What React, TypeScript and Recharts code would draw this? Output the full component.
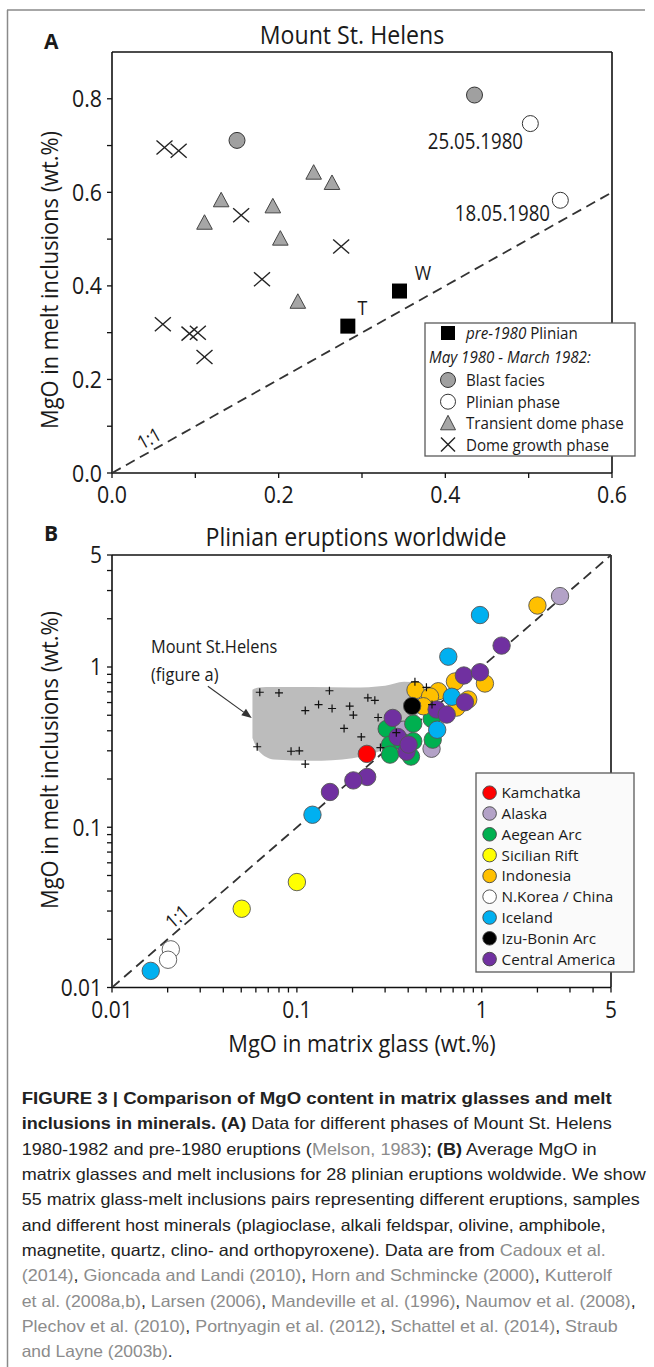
import React from "react";
import {
  ScatterChart,
  ComposedChart,
  Scatter,
  Area,
  XAxis,
  YAxis,
  ReferenceLine,
  ReferenceDot,
} from "recharts";

const FONT = "'Open Sans', 'DejaVu Sans', sans-serif";
const CAP_FONT = "'Liberation Sans', Arial, sans-serif";
const SX = 0.89;

// ---------- Panel A: Mount St. Helens (MgO matrix glass vs melt inclusions) ----------
const blastX = [0.435, 0.15];
const blastY = [0.808, 0.711];
const plinianX = [0.502, 0.538];
const plinianY = [0.747, 0.583];
const transientX = [0.242, 0.264, 0.131, 0.193, 0.111, 0.202, 0.223];
const transientY = [0.642, 0.62, 0.583, 0.57, 0.535, 0.501, 0.366];
const domeX = [0.063, 0.08, 0.155, 0.275, 0.18, 0.061, 0.093, 0.103, 0.111];
const domeY = [0.696, 0.689, 0.551, 0.484, 0.414, 0.318, 0.298, 0.3, 0.248];
const pre1980X = [0.283, 0.345];
const pre1980Y = [0.314, 0.389];

const aXTicks = [0, 0.1, 0.2, 0.3, 0.4, 0.5, 0.6];
const aYTicks = [0, 0.1, 0.2, 0.3, 0.4, 0.5, 0.6, 0.7, 0.8];
const aTickLabels = ["0.0", "0.2", "0.4", "0.6", "0.8"];
const oneToOneA = [0, 0.6];

// ---------- Panel B: Plinian eruptions worldwide ----------
const kamchatkaX = [0.239];
const kamchatkaY = [0.287];
const alaskaX = [2.65, 0.376, 0.535];
const alaskaY = [2.77, 0.406, 0.309];
const aegeanX = [0.426, 0.306, 0.426, 0.319, 0.319, 0.414, 0.536, 0.543, 0.37];
const aegeanY = [0.443, 0.411, 0.344, 0.328, 0.284, 0.276, 0.474, 0.352, 0.342];
const sicilianX = [0.1, 0.0503];
const sicilianY = [0.0455, 0.031];
const indonesiaX = [2.0, 1.04, 0.716, 0.438, 0.582, 0.525, 0.845, 0.483, 0.73];
const indonesiaY = [2.42, 0.789, 0.812, 0.718, 0.706, 0.655, 0.627, 0.569, 0.558];
const koreaX = [0.0208, 0.0201];
const koreaY = [0.0173, 0.0149];
const icelandX = [0.978, 0.659, 0.688, 0.574, 0.1214, 0.0162];
const icelandY = [2.11, 1.16, 0.652, 0.406, 0.1197, 0.0127];
const izuX = [0.42];
const izuY = [0.571];
const centralX = [1.28, 0.8, 0.978, 0.811, 0.57, 0.646, 0.33, 0.351, 0.392, 0.402, 0.24, 0.202, 0.151];
const centralY = [1.36, 0.885, 0.928, 0.603, 0.543, 0.505, 0.481, 0.366, 0.296, 0.328, 0.206, 0.196, 0.166];

const regionNames = [
  "Kamchatka",
  "Alaska",
  "Aegean Arc",
  "Sicilian Rift",
  "Indonesia",
  "N.Korea / China",
  "Iceland",
  "Izu-Bonin Arc",
  "Central America",
];
const regionColors = ["#ff0000", "#b3a2c7", "#00b050", "#ffff00", "#ffc000", "#ffffff", "#00b0f0", "#000000", "#7030a0"];
const regionXs = [kamchatkaX, alaskaX, aegeanX, sicilianX, indonesiaX, koreaX, icelandX, izuX, centralX];
const regionYs = [kamchatkaY, alaskaY, aegeanY, sicilianY, indonesiaY, koreaY, icelandY, izuY, centralY];

// envelope of the Mount St. Helens field (grey area)
const mshEnvX = [0.0575, 0.062, 0.075, 0.12, 0.2, 0.3, 0.38, 0.45];
const mshEnvLow = [0.36, 0.3, 0.265, 0.26, 0.27, 0.31, 0.37, 0.47];
const mshEnvHigh = [0.72, 0.745, 0.75, 0.75, 0.745, 0.765, 0.81, 0.8];

const bTicks = [
  0.01, 0.02, 0.03, 0.04, 0.05, 0.06, 0.07, 0.08, 0.09, 0.1, 0.2, 0.3, 0.4, 0.5, 0.6, 0.7, 0.8, 0.9, 1, 2, 3, 4, 5,
];
const bTickLabels = ["0.01", "0.1", "1", "5"];
const oneToOneB = [0.01, 5];

const captionLines: [string, string][][] = [
  [["FIGURE 3 | Comparison of MgO content in matrix glasses and melt", "b"]],
  [["inclusions in minerals. (A)", "b"], [" Data for different phases of Mount St. Helens", "n"]],
  [["1980-1982 and pre-1980 eruptions (", "n"], ["Melson, 1983", "g"], [");", "n"], [" (B)", "b"], [" Average MgO in", "n"]],
  [["matrix glasses and melt inclusions for 28 plinian eruptions woldwide. We show", "n"]],
  [["55 matrix glass-melt inclusions pairs representing different eruptions, samples", "n"]],
  [["and different host minerals (plagioclase, alkali feldspar, olivine, amphibole,", "n"]],
  [["magnetite, quartz, clino- and orthopyroxene). Data are from ", "n"], ["Cadoux et al.", "g"]],
  [["(2014)", "g"], [", ", "n"], ["Gioncada and Landi (2010)", "g"], [", ", "n"], ["Horn and Schmincke (2000)", "g"], [", ", "n"], ["Kutterolf", "g"]],
  [["et al. (2008a,b)", "g"], [", ", "n"], ["Larsen (2006)", "g"], [", ", "n"], ["Mandeville et al. (1996)", "g"], [", ", "n"], ["Naumov et al. (2008)", "g"], [",", "n"]],
  [["Plechov et al. (2010)", "g"], [", ", "n"], ["Portnyagin et al. (2012)", "g"], [", ", "n"], ["Schattel et al. (2014)", "g"], [", ", "n"], ["Straub", "g"]],
  [["and Layne (2003b)", "g"], [".", "n"]],
];
const captionWidths = [590, 590, 575, 624, 618, 584, 584, 590, 614, 596, 151];

// ---------- helpers ----------
const pts = (xs: number[], ys: number[]) => xs.map((x, i) => ({ x, y: ys[i] }));
const mshPoints = [
  ...pts(blastX, blastY),
  ...pts(plinianX, plinianY),
  ...pts(transientX, transientY),
  ...pts(domeX, domeY),
  ...pts(pre1980X, pre1980Y),
];
const mshEnvelope = mshEnvX.map((x, i) => ({ x, r: [mshEnvLow[i], mshEnvHigh[i]] }));

function NText({ x, y, size, anchor = "start", rotate = 0, by = 0, weight, italic, fill = "#1a1a1a", sx = SX, children }: any) {
  return (
    <g transform={`translate(${x},${y}) rotate(${rotate}) scale(${sx},1)`}>
      <text
        x={0}
        y={by}
        fontSize={size}
        textAnchor={anchor}
        fontFamily={FONT}
        fontWeight={weight}
        fontStyle={italic ? "italic" : undefined}
        fill={fill}
      >
        {children}
      </text>
    </g>
  );
}

const fmtA = (v: number) => {
  const s = v.toFixed(1);
  return aTickLabels.includes(s) ? s : "";
};
const fmtB = (v: number) => {
  const s = String(v);
  return bTickLabels.includes(s) ? s : "";
};
const makeTick = (fmt: (v: number) => string, axis: "x" | "y", fs: number) => (props: any) => {
  const label = fmt(props.payload.value);
  if (!label) return <g />;
  const cap = fs * 0.714;
  return axis === "x" ? (
    <NText x={props.x} y={props.y} by={cap} size={fs} anchor="middle">
      {label}
    </NText>
  ) : (
    <NText x={props.x} y={props.y} by={cap / 2} size={fs} anchor="end">
      {label}
    </NText>
  );
};

const circ = (fill: string, r: number, stroke = "#333", sw = 1) => (p: any) => (
  <circle cx={p.cx} cy={p.cy} r={r} fill={fill} stroke={stroke} strokeWidth={sw} />
);
const triShape = (p: any) => (
  <polygon
    points={`${p.cx},${p.cy - 8} ${p.cx - 7.8},${p.cy + 6.5} ${p.cx + 7.8},${p.cy + 6.5}`}
    fill="#a6a6a6"
    stroke="#444"
    strokeWidth={1}
  />
);
const crossShape = (p: any) => (
  <g stroke="#222" strokeWidth={1.4}>
    <line x1={p.cx - 8} y1={p.cy - 7} x2={p.cx + 8} y2={p.cy + 7} />
    <line x1={p.cx - 8} y1={p.cy + 7} x2={p.cx + 8} y2={p.cy - 7} />
  </g>
);
const squareShape = (p: any) => <rect x={p.cx - 7.5} y={p.cy - 7.5} width={15} height={15} fill="#000" />;
const plusShape = (p: any) => (
  <g stroke="#111" strokeWidth={1.2}>
    <line x1={p.cx - 4} y1={p.cy} x2={p.cx + 4} y2={p.cy} />
    <line x1={p.cx} y1={p.cy - 4} x2={p.cx} y2={p.cy + 4} />
  </g>
);
const noShape = () => <g />;
const textShape = (text: string, size: number, anchor = "start", rotate = 0) => (p: any) => (
  <NText x={p.cx} y={p.cy} size={size} anchor={anchor} rotate={rotate} by={size * 0.357}>
    {text}
  </NText>
);
const arrowShape = (p: any) => {
  const { x1, y1, x2, y2 } = p;
  const a = Math.atan2(y2 - y1, x2 - x1);
  const L = 10;
  const W = 4;
  const bx = x2 - L * Math.cos(a);
  const by = y2 - L * Math.sin(a);
  const px = -Math.sin(a) * W;
  const py = Math.cos(a) * W;
  return (
    <g>
      <line x1={x1} y1={y1} x2={bx} y2={by} stroke="#333" strokeWidth={1.1} />
      <polygon points={`${x2},${y2} ${bx + px},${by + py} ${bx - px},${by - py}`} fill="#333" />
    </g>
  );
};

const AXIS = { stroke: "#111", strokeWidth: 1.6 };
const TICK = { stroke: "#111", strokeWidth: 1.3 };

function PanelA() {
  return (
    <ScatterChart width={654} height={520} margin={{ top: 52, right: 42, bottom: 17, left: 52 }}>
      <XAxis
        type="number"
        dataKey="x"
        domain={[0, 0.6]}
        ticks={aXTicks}
        interval={0}
        height={30}
        tickSize={5}
        tickMargin={8}
        allowDataOverflow
        axisLine={AXIS}
        tickLine={TICK}
        tick={makeTick(fmtA, "x", 24)}
      />
      <YAxis
        type="number"
        dataKey="y"
        domain={[0, 0.9]}
        ticks={aYTicks}
        interval={0}
        width={60}
        tickSize={5}
        tickMargin={5}
        allowDataOverflow
        axisLine={AXIS}
        tickLine={TICK}
        tick={makeTick(fmtA, "y", 24)}
      />
      <ReferenceLine y={0.9} stroke="#111" strokeWidth={1.6} />
      <ReferenceLine x={0.6} stroke="#111" strokeWidth={1.6} />
      <Scatter
        data={pts(oneToOneA, oneToOneA)}
        line={{ stroke: "#333", strokeWidth: 1.8, strokeDasharray: "10 6" }}
        shape={noShape}
        isAnimationActive={false}
      />
      <Scatter data={pts(blastX, blastY)} shape={circ("#a0a0a0", 8)} isAnimationActive={false} />
      <Scatter data={pts(plinianX, plinianY)} shape={circ("#ffffff", 8)} isAnimationActive={false} />
      <Scatter data={pts(transientX, transientY)} shape={triShape} isAnimationActive={false} />
      <Scatter data={pts(domeX, domeY)} shape={crossShape} isAnimationActive={false} />
      <Scatter data={pts(pre1980X, pre1980Y)} shape={squareShape} isAnimationActive={false} />
      <ReferenceDot x={0.4932} y={0.708} shape={textShape("25.05.1980", 21, "end")} />
      <ReferenceDot x={0.5256} y={0.5555} shape={textShape("18.05.1980", 21, "end")} />
      <ReferenceDot x={0.3006} y={0.352} shape={textShape("T", 20, "middle")} />
      <ReferenceDot x={0.3732} y={0.428} shape={textShape("W", 20, "middle")} />
      <ReferenceDot x={0.0444} y={0.074} shape={textShape("1:1", 19, "middle", -29.3)} />
    </ScatterChart>
  );
}

function PanelB() {
  return (
    <ComposedChart width={654} height={540} margin={{ top: 35, right: 43, bottom: 42.5, left: 52 }}>
      <XAxis
        type="number"
        dataKey="x"
        scale="log"
        domain={[0.01, 5]}
        ticks={bTicks}
        interval={0}
        height={30}
        tickSize={5}
        tickMargin={9}
        allowDataOverflow
        axisLine={AXIS}
        tickLine={TICK}
        tick={makeTick(fmtB, "x", 23.5)}
      />
      <YAxis
        type="number"
        dataKey="y"
        scale="log"
        domain={[0.01, 5]}
        ticks={bTicks}
        interval={0}
        width={60}
        tickSize={5}
        tickMargin={5}
        allowDataOverflow
        axisLine={AXIS}
        tickLine={TICK}
        tick={makeTick(fmtB, "y", 23.5)}
      />
      <ReferenceLine y={5} stroke="#111" strokeWidth={1.6} />
      <ReferenceLine x={5} stroke="#111" strokeWidth={1.6} />
      <Area
        data={mshEnvelope}
        dataKey="r"
        type="monotone"
        fill="#bcbcbc"
        fillOpacity={1}
        stroke="none"
        isAnimationActive={false}
      />
      <Scatter
        data={pts(oneToOneB, oneToOneB)}
        line={{ stroke: "#333", strokeWidth: 1.8, strokeDasharray: "10 6" }}
        shape={noShape}
        isAnimationActive={false}
      />
      {regionNames.map((name, i) => (
        <Scatter
          key={name}
          name={name}
          data={pts(regionXs[i], regionYs[i])}
          shape={circ(regionColors[i], 8.7, "#555", 0.9)}
          isAnimationActive={false}
        />
      ))}
      <Scatter data={mshPoints} shape={plusShape} isAnimationActive={false} />
      <ReferenceLine
        segment={[
          { x: 0.033, y: 0.759 },
          { x: 0.057, y: 0.481 },
        ]}
        shape={arrowShape}
      />
      <ReferenceDot x={0.01626} y={1.349} shape={textShape("Mount St.Helens", 18.4)} />
      <ReferenceDot x={0.01626} y={0.897} shape={textShape("(figure a)", 18.4)} />
      <ReferenceDot x={0.02246} y={0.0277} shape={textShape("1:1", 19, "middle", -40.9)} />
    </ComposedChart>
  );
}

function Overlay() {
  const aRows = [333, 356.5, 380, 401.7, 423.3, 444.5];
  const lfA = 17;
  const capA = lfA * 0.357;
  const lfB = 15.3;
  const capB = lfB * 0.357;
  return (
    <svg width={654} height={1367} style={{ position: "absolute", left: 0, top: 0 }}>
      {/* figure frame */}
      <line x1={7} y1={10} x2={645} y2={10} stroke="#8a8a8a" strokeWidth={1.5} />
      <line x1={7.5} y1={10} x2={7.5} y2={1367} stroke="#8a8a8a" strokeWidth={1.5} />

      {/* panel letters and titles */}
      <NText x={44} y={49} size={21} weight="bold" sx={1}>A</NText>
      <NText x={44} y={541} size={21} weight="bold" sx={1}>B</NText>
      <NText x={352} y={44} size={26} anchor="middle">Mount St. Helens</NText>
      <NText x={356} y={546} size={26} anchor="middle">Plinian eruptions worldwide</NText>

      {/* axis titles */}
      <NText x={49} y={280} size={24.5} anchor="middle" rotate={-90} by={8.75}>MgO in melt inclusions (wt.%)</NText>
      <NText x={49} y={760} size={24.5} anchor="middle" rotate={-90} by={8.75}>MgO in melt inclusions (wt.%)</NText>
      <NText x={362} y={1043} size={24.5} anchor="middle" by={8.75}>MgO in matrix glass (wt.%)</NText>

      {/* legend A */}
      <rect x={425} y={323} width={210} height={133} fill="#ffffff" stroke="#5a5a5a" strokeWidth={1.3} />
      <rect x={441} y={aRows[0] - 7} width={14} height={14} fill="#000" />
      <NText x={466} y={aRows[0]} by={capA} size={lfA}>
        <tspan fontStyle="italic">pre-1980</tspan> Plinian
      </NText>
      <NText x={429} y={aRows[1]} by={capA} size={lfA} italic>May 1980 - March 1982:</NText>
      <circle cx={448} cy={aRows[2]} r={7.5} fill="#a0a0a0" stroke="#333" />
      <NText x={466} y={aRows[2]} by={capA} size={lfA}>Blast facies</NText>
      <circle cx={448} cy={aRows[3]} r={7.5} fill="#fff" stroke="#333" />
      <NText x={466} y={aRows[3]} by={capA} size={lfA}>Plinian phase</NText>
      <polygon
        points={`448,${aRows[4] - 8} ${440.5},${aRows[4] + 6.5} ${455.5},${aRows[4] + 6.5}`}
        fill="#a6a6a6"
        stroke="#444"
      />
      <NText x={466} y={aRows[4]} by={capA} size={lfA}>Transient dome phase</NText>
      <g stroke="#222" strokeWidth={1.4}>
        <line x1={441} y1={aRows[5] - 7} x2={455} y2={aRows[5] + 7} />
        <line x1={441} y1={aRows[5] + 7} x2={455} y2={aRows[5] - 7} />
      </g>
      <NText x={466} y={aRows[5]} by={capA} size={lfA}>Dome growth phase</NText>

      {/* legend B */}
      <rect x={476} y={773} width={158} height={199} fill="#fafafa" stroke="#5a5a5a" strokeWidth={1.3} />
      {regionNames.map((name, i) => {
        const cy = 792.7 + i * 20.8;
        return (
          <g key={name}>
            <circle cx={489.6} cy={cy} r={6.8} fill={regionColors[i]} stroke="#444" strokeWidth={0.9} />
            <NText x={501.5} y={cy} by={capB} size={lfB} sx={1}>{name}</NText>
          </g>
        );
      })}

      {/* caption */}
      {captionLines.map((segs, i) => (
        <text
          key={i}
          x={21.7}
          y={1104 + i * 25.33}
          fontFamily={CAP_FONT}
          fontSize={16.5}
          textLength={captionWidths[i]}
          lengthAdjust="spacingAndGlyphs"
          fill="#222"
          xmlSpace="preserve"
        >
          {segs.map(([t, s], j) => (
            <tspan key={j} fontWeight={s === "b" ? "bold" : "normal"} fill={s === "g" ? "#8c8c8c" : "#222"}>
              {t}
            </tspan>
          ))}
        </text>
      ))}
    </svg>
  );
}

export default function App() {
  return (
    <div style={{ position: "absolute", left: 0, top: 0, width: 654, height: 1367, background: "#fff", fontFamily: FONT }}>
      <div style={{ position: "absolute", left: 0, top: 0 }}>
        <PanelA />
      </div>
      <div style={{ position: "absolute", left: 0, top: 520 }}>
        <PanelB />
      </div>
      <Overlay />
    </div>
  );
}
